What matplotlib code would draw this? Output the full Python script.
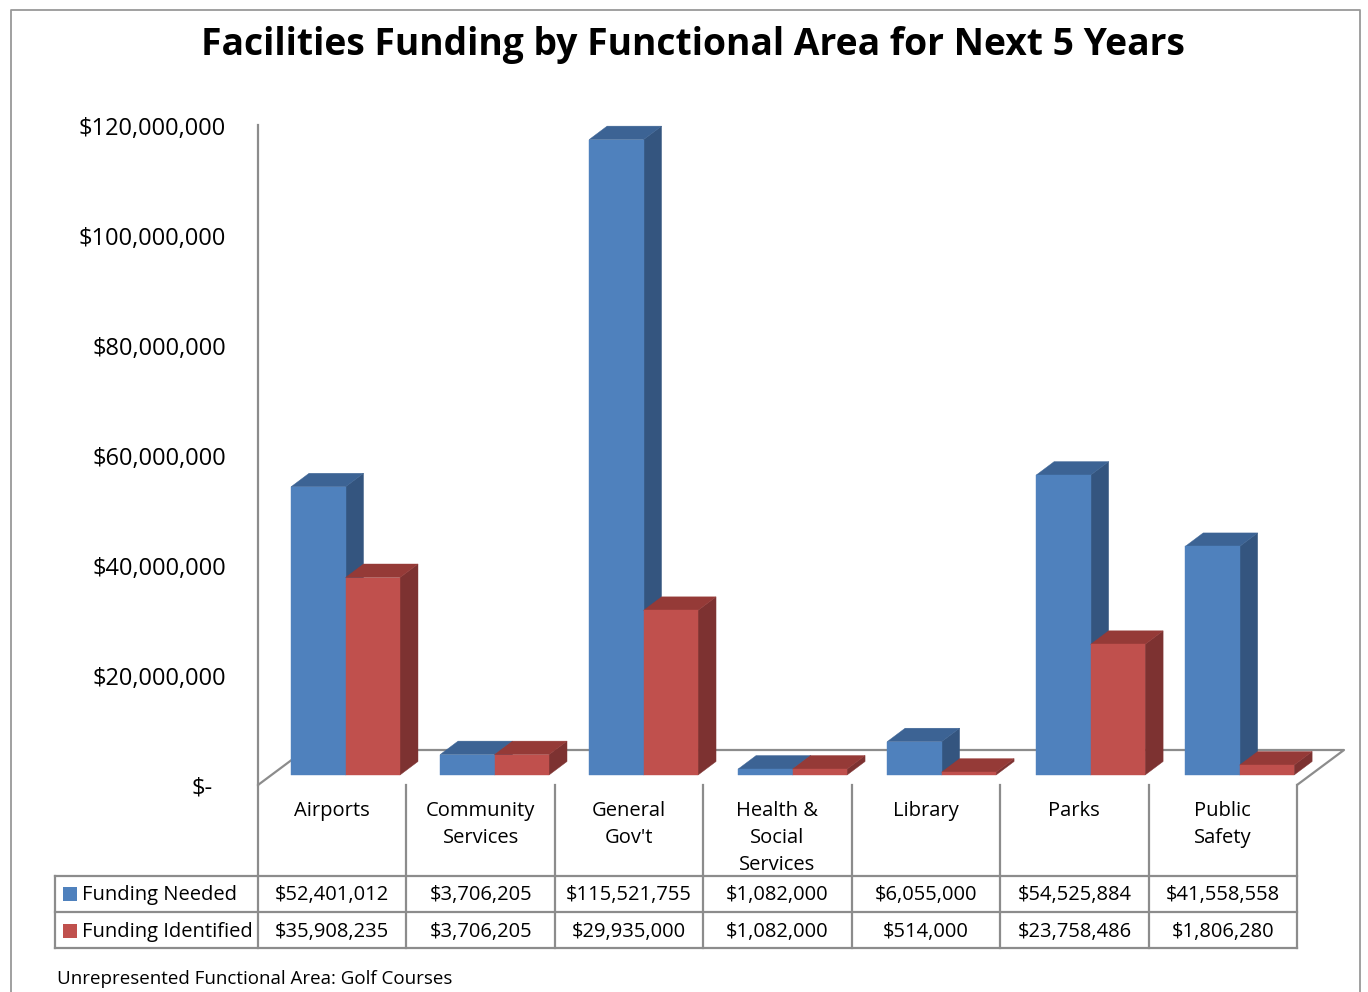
import matplotlib
matplotlib.use("Agg")
import matplotlib.pyplot as plt
from matplotlib.patches import Polygon, Rectangle
import matplotlib.transforms as mtransforms

# ---------------- data ----------------
categories = ["Airports", "Community\nServices", "General\nGov't", "Health &\nSocial\nServices",
              "Library", "Parks", "Public\nSafety"]
funding_needed = [52401012, 3706205, 115521755, 1082000, 6055000, 54525884, 41558558]
funding_identified = [35908235, 3706205, 29935000, 1082000, 514000, 23758486, 1806280]
series_names = ["Funding Needed", "Funding Identified"]
ytick_values = [0, 20000000, 40000000, 60000000, 80000000, 100000000, 120000000]
title = "Facilities Funding by Functional Area for Next 5 Years"
footer = "Unrepresented Functional Area: Golf Courses"

# ---------------- style ----------------
FONT = "Open Sans"
W, H = 1368, 992
face_cols = [("#4F81BD", "#3C6394", "#34557F"), ("#C0504D", "#953A37", "#7D3231")]
grid_col = "#8C8C8C"

fig = plt.figure(figsize=(W / 100, H / 100), dpi=100)
fig.patch.set_facecolor("white")

# plot area in pixels
px_l, px_r, px_t, px_b = 258, 1297, 125, 785
ax = fig.add_axes([px_l / W, (H - px_b) / H, (px_r - px_l) / W, (px_b - px_t) / H])
ax.set_xlim(-0.5, len(categories) - 0.5)
ax.set_ylim(0, 120000000)
ax.set_facecolor("none")
for s in ["top", "right", "bottom"]:
    ax.spines[s].set_visible(False)
ax.spines["left"].set_color(grid_col)
ax.spines["left"].set_linewidth(1.6)
ax.set_xticks([])
ax.set_yticks([])

xu = (px_r - px_l) / len(categories)       # pixels per category unit
yu = (px_b - px_t) / 120000000             # pixels per dollar


def dpx(px_x, px_y):
    return px_x / xu, px_y / yu


front_dx, front_dy = dpx(13.3, 10)
depth_dx, depth_dy = dpx(18, 13.5)
floor_dx, floor_dy = dpx(47, 35)

# floor
n = len(categories)
fx0, fx1 = -0.5, n - 0.5
floor_pts = [(fx0, 0), (fx0 + floor_dx, floor_dy), (fx1 + floor_dx, floor_dy), (fx1, 0)]
ax.plot([p[0] for p in floor_pts], [p[1] for p in floor_pts], color=grid_col, lw=1.6,
        clip_on=False, zorder=1, solid_capstyle="butt")

# y tick labels
for v in ytick_values:
    lab = "$-" if v == 0 else "${:,.0f}".format(v)
    xoff = -45 if v == 0 else -32
    tr = ax.get_yaxis_transform() + mtransforms.ScaledTranslation(xoff / 100, -4 / 100, fig.dpi_scale_trans)
    ax.text(0, v, lab, transform=tr, ha="right", va="center", fontsize=17, family=FONT,
            color="black", clip_on=False)

# bars
bw = 0.367
for i in range(n):
    for j, vals in enumerate([funding_needed, funding_identified]):
        v = vals[i]
        x0 = i - bw + j * bw + front_dx + i * 0.004
        x1 = x0 + bw
        y0 = front_dy
        y1 = front_dy + v
        fc, tc, sc = face_cols[j]
        front = Polygon([(x0, y0), (x1, y0), (x1, y1), (x0, y1)], closed=True,
                        facecolor=fc, edgecolor=fc, lw=0.3, clip_on=False, zorder=3)
        top = Polygon([(x0, y1), (x1, y1), (x1 + depth_dx, y1 + depth_dy), (x0 + depth_dx, y1 + depth_dy)],
                      closed=True, facecolor=tc, edgecolor=tc, lw=0.3, clip_on=False, zorder=3)
        side = Polygon([(x1, y0), (x1 + depth_dx, y0 + depth_dy), (x1 + depth_dx, y1 + depth_dy), (x1, y1)],
                       closed=True, facecolor=sc, edgecolor=sc, lw=0.3, clip_on=False, zorder=3)
        for p in (side, top, front):
            ax.add_patch(p)

# ---------------- data table ----------------
tbl = mtransforms.blended_transform_factory(ax.transData, ax.transAxes)


def ay(py):
    return (px_b - py) / (px_b - px_t)


row_y = [785, 876, 912, 948]
left_x = (55 - px_l) / xu - 0.5
lw_t = 1.6
# horizontal lines
for yy in row_y[1:]:
    ax.plot([left_x, fx1], [ay(yy)] * 2, transform=tbl, color=grid_col, lw=lw_t, clip_on=False, zorder=1)
# vertical lines
for b in range(n + 1):
    xb = b - 0.5
    ax.plot([xb, xb], [ay(785), ay(948)], transform=tbl, color=grid_col, lw=lw_t, clip_on=False, zorder=1)
ax.plot([left_x, left_x], [ay(876), ay(948)], transform=tbl, color=grid_col, lw=lw_t, clip_on=False, zorder=1)

# category labels
for i, c in enumerate(categories):
    ax.text(i, ay(801), c, transform=tbl, ha="center", va="top", fontsize=14.5, family=FONT,
            linespacing=1.47, clip_on=False)

# values
for j, vals in enumerate([funding_needed, funding_identified]):
    cy = ay(895 + 36.5 * j)
    for i, v in enumerate(vals):
        ax.text(i, cy, "${:,.0f}".format(v), transform=tbl, ha="center", va="center", fontsize=14.5,
                family=FONT, clip_on=False)
    # legend key
    fig.patches.append(Rectangle((63 / W, (H - (894 + 36.5 * j) - 7) / H), 14 / W, 14 / H,
                                 transform=fig.transFigure, facecolor=face_cols[j][0], edgecolor="none"))
    fig.text(82 / W, (H - (895 + 36.5 * j)) / H, series_names[j], ha="left", va="center",
             fontsize=14.5, family=FONT)

# title and extras
fig.text(693 / W, (H - 45) / H, title, ha="center", va="center", fontsize=26.8, fontweight="bold",
         family=FONT)
fig.text(640 / W, (H - 4) / H, "Chart 7", ha="center", va="bottom", fontsize=14, fontweight="bold",
         family=FONT)
fig.text(57 / W, (H - 979) / H, footer, ha="left", va="center", fontsize=13.5, family=FONT)

# outer frame
fig.lines.append(plt.Line2D([11 / W, 11 / W, 1360 / W, 1360 / W], [0, (H - 10) / H, (H - 10) / H, 0],
                            transform=fig.transFigure, color="#999999", lw=1.3))

fig.savefig("out.png", dpi=100, facecolor="white")
